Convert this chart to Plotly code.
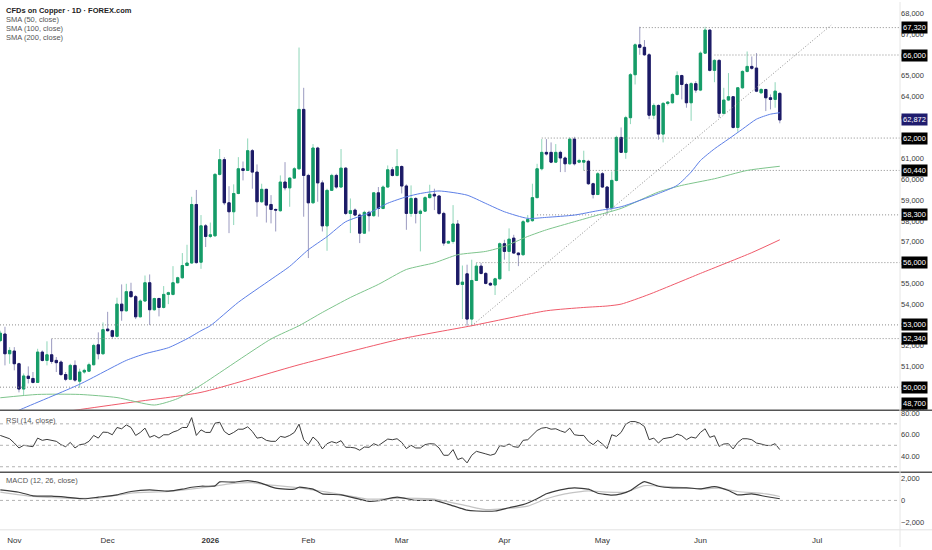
import pandas as pd
import plotly.graph_objects as go
from plotly.subplots import make_subplots

# daily bars (weekdays, no bar on Dec 25, Jan 1 and Good Friday)
holidays = ["2025-12-25", "2026-01-01", "2026-04-03"]
all_days = pd.bdate_range("2025-10-29", "2026-08-31")
all_days = all_days[~all_days.isin(pd.to_datetime(holidays))]
dates = all_days[:168]

opens = [
    52245, 52560, 51610, 51740, 51130, 49910, 50530, 50420, 50230, 51690,
    51290, 51560, 51290, 51210, 50610, 50380, 51050, 50290, 50730, 50770,
    51080, 52040, 51610, 52800, 52720, 52450, 54000, 53680, 54600, 54360,
    53390, 54150, 55030, 53730, 54270, 53840, 54470, 54470, 55030, 55270,
    55860, 55980, 58800, 56020, 57770, 57260, 57290, 60250, 60960, 58880,
    58450, 59330, 60520, 60440, 61390, 60360, 58930, 59530, 58800, 58560,
    58500, 59880, 59600, 60070, 60520, 63380, 60200, 58880, 61520, 59840,
    57770, 59480, 60200, 59640, 60550, 58370, 58530, 58290, 57420, 58420,
    58260, 59360, 58610, 59640, 60470, 60200, 60630, 59690, 58370, 59090,
    58370, 58480, 59130, 59290, 59210, 58370, 56940, 57020, 57860, 54950,
    55460, 53280, 55140, 55830, 55480, 55000, 54920, 55220, 56910, 56540,
    57180, 56460, 56380, 57970, 58020, 59130, 60520, 61310, 61310, 60840,
    61310, 61040, 60760, 61950, 60840, 60840, 60880, 59800, 59280, 60280,
    59640, 58640, 59960, 62030, 61310, 62980, 65050, 66490, 66370, 66010,
    63100, 63570, 62190, 63670, 63700, 64100, 65010, 64580, 63700, 64620,
    64310, 66090, 67200, 65260, 65740, 63190, 63830, 63990, 62510, 64420,
    65210, 65450, 65370, 64180, 64340, 63940, 63860, 64150]
highs = [
    52720, 52910, 51930, 51930, 51180, 50660, 51000, 50730, 51850, 51770,
    52210, 52330, 51450, 51290, 50730, 51130, 51290, 50890, 50890, 51180,
    52090, 52640, 53120, 53630, 52770, 54310, 54950, 54980, 55030, 54440,
    54230, 55380, 55430, 54310, 54310, 54870, 54600, 55830, 55320, 56460,
    56860, 59170, 59500, 58290, 57860, 57930, 60310, 61470, 61080, 59680,
    59770, 61080, 60870, 61980, 61470, 60730, 59800, 59560, 59250, 58610,
    60200, 60840, 60120, 60600, 66360, 64420, 60280, 61710, 61580, 59960,
    59560, 60280, 60280, 61470, 60600, 59090, 58610, 58370, 58500, 58500,
    59400, 59640, 59720, 60680, 60600, 61470, 60680, 59770, 59720, 59150,
    58560, 59200, 59750, 59560, 59260, 58450, 57070, 58770, 58050, 55860,
    55900, 56140, 55980, 55980, 55540, 55060, 55270, 56970, 57100, 57650,
    57340, 56490, 58050, 58290, 59800, 60760, 61950, 61950, 61790, 61710,
    61390, 61110, 62030, 62060, 61000, 61390, 60950, 59850, 60360, 60360,
    59690, 60390, 62110, 62510, 63070, 65130, 66560, 67360, 66720, 66090,
    63670, 63620, 63730, 63780, 64180, 65210, 65050, 64660, 64690, 64740,
    66170, 67360, 67230, 65800, 65800, 64420, 65130, 64020, 64460, 65260,
    66170, 65930, 66090, 64400, 64370, 64100, 64690, 64210]
lows = [
    52170, 51050, 51130, 50810, 49750, 49590, 50180, 50180, 50200, 51240,
    51050, 51130, 50730, 50540, 50290, 50340, 50260, 49970, 50650, 50730,
    51050, 51340, 51560, 52680, 52330, 52400, 53200, 53630, 54310, 53280,
    53360, 54120, 52990, 53680, 53410, 53790, 54000, 54420, 55000, 55220,
    55830, 55950, 55950, 55700, 56750, 57180, 57260, 60200, 58770, 57420,
    57810, 59290, 59960, 60410, 59560, 58210, 58880, 57930, 57890, 57500,
    58450, 59480, 58690, 60040, 60470, 58210, 56220, 58850, 58930, 57500,
    56570, 59450, 59560, 59610, 58290, 57420, 58240, 56940, 57380, 57500,
    58210, 58210, 58570, 59610, 60150, 60150, 59330, 57580, 58210, 57890,
    56540, 58450, 59090, 58530, 58290, 56810, 56910, 56910, 54900, 53280,
    52960, 52960, 55110, 55430, 54950, 54870, 54440, 55190, 56140, 55590,
    56430, 55830, 56330, 57920, 57970, 59100, 60440, 61160, 60790, 60800,
    60360, 60360, 60720, 60680, 60790, 60440, 59740, 59090, 59250, 59600,
    58320, 58450, 59910, 61280, 61000, 62670, 64580, 66010, 65960, 62910,
    62910, 61920, 61790, 63570, 63670, 64050, 63860, 63460, 62830, 64180,
    64260, 66050, 65210, 64690, 62980, 63140, 63780, 62460, 62300, 64370,
    65160, 65290, 64210, 64130, 63300, 63380, 63460, 62710]
closes = [
    52600, 51610, 51770, 51130, 49910, 50540, 50420, 50230, 51690, 51290,
    51560, 51240, 51180, 50610, 50380, 51050, 50340, 50730, 50810, 51080,
    52010, 51610, 52770, 52720, 52450, 54000, 53680, 54600, 54360, 53390,
    54150, 55030, 53730, 54270, 53840, 54470, 54550, 55030, 55270, 55860,
    55980, 58800, 56000, 57770, 57260, 57340, 60250, 60960, 58880, 58450,
    59330, 60520, 60440, 61390, 60360, 58930, 59530, 58770, 58560, 58530,
    59880, 59600, 60070, 60520, 63380, 60200, 58880, 61520, 59840, 57770,
    59480, 60200, 59640, 60550, 58370, 58500, 58290, 57420, 58420, 58260,
    59360, 58610, 59640, 60470, 60200, 60630, 59690, 58370, 59090, 58370,
    58480, 59130, 59290, 59210, 58370, 56940, 57020, 57860, 54950, 55060,
    53280, 55140, 55830, 55480, 55000, 54920, 55220, 56910, 56540, 57130,
    56460, 56380, 57970, 58080, 59130, 60520, 61310, 61230, 60840, 61310,
    61040, 60760, 61950, 60760, 60920, 60920, 59800, 59280, 60280, 59640,
    58640, 59960, 62030, 61310, 62980, 65050, 66490, 66370, 66010, 63100,
    63570, 62190, 63670, 63730, 64100, 65010, 64580, 63700, 64620, 64310,
    66090, 67200, 65260, 65740, 63190, 63830, 63990, 62510, 64420, 65210,
    65450, 65360, 64260, 64340, 63940, 63860, 64260, 62872]

# moving averages at some bars (bar index, value)
sma50_bar = [0, 4, 17, 27, 31, 36, 40, 43, 45, 51, 58, 62, 66, 70, 74, 79, 83, 87, 90, 94,
             100, 104, 108, 113, 117, 123, 128, 133, 141, 145, 148, 150, 153, 156, 159, 162, 165, 167]
sma50_val = [48460, 48890, 50140, 51290, 51610, 51900, 52330, 52720, 52960, 54090, 55190, 55820,
             56620, 57250, 57970, 58390, 58860, 59170, 59330, 59450, 59250, 58850, 58450, 58130,
             58180, 58290, 58500, 58690, 59330, 59720, 60360, 60920, 61480, 61950, 62430, 62910,
             63150, 63220]
sma100_bar = [0, 8, 17, 25, 33, 38, 43, 58, 64, 69, 75, 81, 87, 93, 98, 104, 108, 113, 117,
              123, 128, 133, 141, 146, 153, 160, 167]
sma100_val = [49490, 49650, 49650, 49500, 49140, 49450, 50100, 52320, 52960, 53600, 54320, 54950,
              55670, 55990, 56380, 56540, 56780, 57260, 57580, 57970, 58290, 58610, 59400, 59720,
              60040, 60440, 60640]
sma200_bar = [0, 16, 28, 43, 64, 86, 101, 117, 125, 130, 133, 139, 150, 161, 167]
sma200_val = [48360, 48890, 49270, 49750, 51080, 52330, 52960, 53680, 53840, 53910, 54000, 54470,
              55480, 56480, 57100]

# horizontal levels and where they start (bar index)
level_values = [67320, 66000, 62000, 60440, 58300, 56000, 53000, 52340, 50000, 48700]
level_start = [137, 153, 116, 125, 115, 102, 0, 11, 0, 0]

# trendline from the March low
trend_bar = [101, 178]
trend_val = [52960, 67440]

rsi = [
    59.2, 57.4, 56.1, 52.1, 47.5, 50.0, 49.7, 48.7, 56.7, 54.6,
    55.5, 54.3, 53.7, 50.6, 48.7, 52.7, 47.5, 50.6, 51.2, 53.7,
    59.2, 56.7, 62.3, 62.0, 59.8, 66.6, 65.4, 69.0, 66.6, 59.2,
    62.0, 66.0, 57.4, 59.2, 56.7, 59.8, 59.8, 62.3, 63.8, 66.6,
    66.6, 75.8, 59.2, 64.4, 62.0, 62.0, 70.6, 71.5, 62.9, 59.8,
    62.0, 65.0, 65.0, 67.2, 62.9, 56.7, 57.4, 54.6, 53.7, 53.7,
    58.3, 57.4, 59.2, 62.0, 69.7, 55.2, 50.6, 57.7, 53.7, 46.6,
    51.5, 53.4, 52.1, 54.3, 48.1, 48.1, 47.5, 45.4, 48.4, 48.1,
    51.5, 49.7, 52.7, 55.8, 55.2, 56.1, 52.7, 46.9, 50.0, 47.5,
    47.5, 50.6, 51.5, 51.2, 47.5, 40.7, 40.7, 46.0, 36.7, 38.3,
    33.6, 40.7, 44.4, 43.5, 42.0, 40.7, 42.0, 49.7, 49.0, 51.2,
    48.7, 48.1, 54.6, 55.2, 59.2, 63.8, 66.0, 66.6, 65.0, 65.4,
    63.5, 62.0, 66.0, 59.8, 59.2, 59.2, 53.7, 50.6, 54.6, 51.2,
    46.9, 59.8, 58.3, 62.0, 69.7, 72.1, 72.1, 70.6, 67.5, 55.2,
    56.7, 52.1, 56.1, 56.7, 57.7, 60.4, 58.9, 55.2, 57.7, 56.7,
    62.0, 65.4, 57.4, 58.9, 49.0, 51.2, 51.5, 46.6, 52.7, 56.1,
    56.1, 55.2, 52.1, 51.2, 50.0, 49.7, 51.5, 46.0]

macd_bar = [0, 4, 7, 11, 14, 18, 21, 25, 28, 32, 36, 39, 41, 43, 46, 47, 50, 53, 56, 59, 63, 64,
            67, 69, 73, 76, 79, 81, 85, 89, 93, 96, 100, 102, 106, 109, 112, 115, 117, 120, 123,
            126, 128, 131, 133, 135, 137, 138, 141, 144, 147, 150, 153, 156, 158, 161, 164, 167]
macd_val = [970, 750, 420, 390, 300, 150, 300, 510, 820, 970, 850, 1030, 1210, 1300, 1330, 1700,
            1670, 1820, 1570, 1120, 1030, 1210, 1030, 600, 510, 210, -90, -30, 300, 0, 0, -360,
            -900, -970, -970, -670, -390, 150, 610, 970, 1150, 1030, 660, 480, 600, 910, 1510,
            1730, 1300, 1150, 1150, 1060, 1270, 910, 510, 600, 360, 150]
signal_bar = [0, 7, 14, 21, 28, 36, 43, 50, 54, 57, 64, 71, 79, 86, 93, 100, 104, 108, 113, 117,
              121, 126, 130, 134, 138, 143, 150, 154, 158, 164, 167]
signal_val = [760, 360, 210, 210, 660, 820, 1150, 1570, 1630, 1450, 1150, 690, 120, 210, 120, -500,
              -850, -760, -520, 150, 600, 880, 760, 760, 1360, 1270, 1060, 1120, 820, 600, 360]

assert len(opens) == len(highs) == len(lows) == len(closes) == len(rsi) == len(dates)

UP, UP_WICK = "#169c68", "#8fd6b9"
DN, DN_WICK = "#1c1a66", "#9b9ac0"
FONT = "Liberation Sans"
DOTS = "1px,2px"

MAIN_DOM = [0.2518, 1.0]
RSI_DOM = [0.1382, 0.2496]
MACD_DOM = [0.0315, 0.1373]
X_DOM = [0, 900 / 932]

x_start = dates[0] - pd.Timedelta(hours=1.5)
x_end = all_days[192] + pd.Timedelta(hours=18)

fig = make_subplots(rows=3, cols=1, shared_xaxes=True, vertical_spacing=0)

# levels (dotted)
for v, s in zip(level_values, level_start):
    fig.add_trace(go.Scatter(x=[dates[s] if s > 0 else x_start, x_end], y=[v, v], mode="lines",
                             line=dict(color="#8c8c8c", width=1, dash=DOTS),
                             hoverinfo="skip"), row=1, col=1)

fig.add_trace(go.Scatter(x=[all_days[b] for b in trend_bar], y=trend_val, mode="lines",
                         line=dict(color="#8c8c8c", width=1, dash=DOTS), hoverinfo="skip"),
              row=1, col=1)

# moving averages
for bars, vals, col in [(sma200_bar, sma200_val, "#ef5a6a"),
                        (sma100_bar, sma100_val, "#7ec48c"),
                        (sma50_bar, sma50_val, "#5d7fe6")]:
    fig.add_trace(go.Scatter(x=[dates[b] for b in bars], y=vals, mode="lines",
                             line=dict(color=col, width=1, shape="spline", smoothing=0.6)),
                  row=1, col=1)

# candles: first trace gives the light wicks, second one the bodies
fig.add_trace(go.Candlestick(
    x=dates, open=opens, high=highs, low=lows, close=closes,
    increasing=dict(line=dict(color=UP_WICK, width=1), fillcolor=UP),
    decreasing=dict(line=dict(color=DN_WICK, width=1), fillcolor=DN),
    whiskerwidth=0), row=1, col=1)
body_hi = [max(o, c) for o, c in zip(opens, closes)]
body_lo = [min(o, c) for o, c in zip(opens, closes)]
fig.add_trace(go.Candlestick(
    x=dates, open=opens, high=body_hi, low=body_lo, close=closes,
    increasing=dict(line=dict(color=UP, width=1), fillcolor=UP),
    decreasing=dict(line=dict(color=DN, width=1), fillcolor=DN),
    whiskerwidth=0), row=1, col=1)

# RSI
fig.add_trace(go.Scatter(x=dates, y=rsi, mode="lines", line=dict(color="#3c3c3c", width=1)),
              row=2, col=1)

# MACD
fig.add_trace(go.Scatter(x=[dates[b] for b in signal_bar], y=signal_val, mode="lines",
                         line=dict(color="#c4c4c4", width=1.2, shape="spline", smoothing=0.5)),
              row=3, col=1)
fig.add_trace(go.Scatter(x=[dates[b] for b in macd_bar], y=macd_val, mode="lines",
                         line=dict(color="#3c3c3c", width=1.2, shape="spline", smoothing=0.5)),
              row=3, col=1)

# month ticks on the first bar of each month
months = ["2025-11", "2025-12", "2026-01", "2026-02", "2026-03", "2026-04", "2026-05", "2026-06"]
tickvals = [all_days[all_days.strftime("%Y-%m") == m][0] for m in months]
tickvals.append(all_days[175])  # TradingView prints the future "Jul" label here
ticktext = ["Nov", "Dec", "<b>2026</b>", "Feb", "Mar", "Apr", "May", "Jun", "Jul"]

fig.update_xaxes(domain=X_DOM, range=[x_start, x_end], showgrid=False, zeroline=False,
                 showline=False, ticks="", rangeslider_visible=False,
                 rangebreaks=[dict(bounds=["sat", "mon"]), dict(values=holidays)])
fig.update_xaxes(tickvals=tickvals, ticktext=ticktext, tickfont=dict(size=8, color="#333"),
                 ticklabelstandoff=4, row=3, col=1)

axis_common = dict(side="right", showgrid=False, zeroline=False, showline=False, ticks="",
                   tickfont=dict(size=7.5, color="#3a3a3a", family=FONT))
price_ticks = list(range(49000, 68001, 1000))
fig.update_yaxes(domain=MAIN_DOM, range=[48912, 68553], tickvals=price_ticks,
                 ticktext=[f"{t:,}" for t in price_ticks], row=1, col=1, **axis_common)
fig.update_yaxes(domain=RSI_DOM, range=[25.4, 82], tickvals=[40, 60, 80],
                 ticktext=["40.00", "60.00", "80.00"], row=2, col=1, **axis_common)
fig.update_yaxes(domain=MACD_DOM, range=[-2700, 2591], tickvals=[-2000, 0, 2000],
                 ticktext=["\u22122,000", "0", "2,000"], row=3, col=1, **axis_common)

shapes = []
for lv in [70, 50, 30]:
    shapes.append(dict(type="line", xref="x2 domain", x0=0, x1=1, yref="y2", y0=lv, y1=lv,
                       line=dict(color="#b4b4b4", width=1, dash="3px,3px")))
shapes.append(dict(type="line", xref="x3 domain", x0=0, x1=1, yref="y3", y0=0, y1=0,
                   line=dict(color="#b4b4b4", width=1, dash="3px,3px")))
for yp in [MAIN_DOM[0], RSI_DOM[0]]:
    shapes.append(dict(type="line", xref="paper", x0=0, x1=1, yref="paper", y0=yp - 0.001,
                       y1=yp - 0.001, line=dict(color="#555", width=1.6)))
shapes.append(dict(type="line", xref="paper", x0=0, x1=1, yref="paper", y0=MACD_DOM[0],
                   y1=MACD_DOM[0], line=dict(color="#e2e2e2", width=1)))
shapes.append(dict(type="line", xref="paper", x0=X_DOM[1], x1=X_DOM[1], yref="paper", y0=0,
                   y1=1, line=dict(color="#e6e6e6", width=1)))

annotations = []
for v in level_values:
    a = dict(xref="paper", x=X_DOM[1] + 0.001, xanchor="left", text=f"{v:,}", showarrow=False,
             bgcolor="#000000", font=dict(size=7.5, color="white", family=FONT), borderpad=1)
    if v < 48912:
        a.update(yref="y domain", y=0, yanchor="bottom")
    else:
        a.update(yref="y", y=v, yanchor="middle")
    annotations.append(a)
annotations.append(dict(xref="paper", x=X_DOM[1] + 0.001, xanchor="left", yref="y",
                        y=closes[-1], yanchor="middle", text=f"{closes[-1]:,}", showarrow=False,
                        bgcolor="#1f1c6e", font=dict(size=7.5, color="white", family=FONT),
                        borderpad=1))

titles = [("CFDs on Copper \u00b7 1D \u00b7 FOREX.com", 9, "#222", True),
          ("SMA (50, close)", 18, "#555", False),
          ("SMA (100, close)", 27, "#555", False),
          ("SMA (200, close)", 36, "#555", False),
          ("RSI (14, close)", 422, "#555", False),
          ("MACD (12, 26, close)", 483, "#555", False)]
for txt, ypx, col, bold in titles:
    annotations.append(dict(xref="paper", x=4 / 932, xanchor="left", yref="paper",
                            y=1 - ypx / 550, yanchor="middle", showarrow=False,
                            text=f"<b>{txt}</b>" if bold else txt,
                            font=dict(size=7.5, color=col, family=FONT)))

fig.update_layout(width=932, height=550, margin=dict(l=0, r=0, t=0, b=0),
                  paper_bgcolor="white", plot_bgcolor="white", showlegend=False,
                  font=dict(family=FONT, size=8, color="#333"),
                  shapes=shapes, annotations=annotations, hovermode=False)

# the page body has a default margin; drop it so the figure fills the window
fig.write_html("out.html", config={"displayModeBar": False},
               post_script="document.body.style.margin = '0';")
